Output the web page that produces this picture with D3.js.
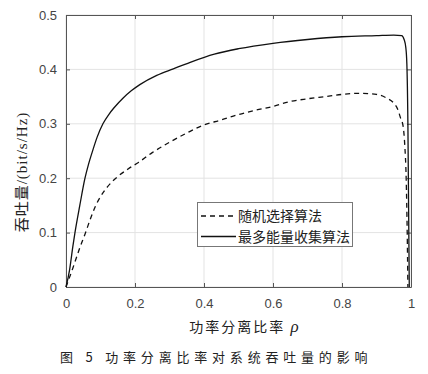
<!DOCTYPE html>
<html>
<head>
<meta charset="utf-8">
<script src="https://cdn.jsdelivr.net/npm/d3@7.9.0/dist/d3.min.js"></script>
<style>
  body { margin: 0; background: #fff; }
  svg { display: block; }
  .tick text { font-family: "Liberation Sans", sans-serif; font-size: 13px; fill: #444; }
</style>
</head>
<body>
<svg width="428" height="374"></svg>
<script>
// throughput vs power splitting ratio
const xTicks = [0, 0.2, 0.4, 0.6, 0.8, 1];
const yTicks = [0, 0.1, 0.2, 0.3, 0.4, 0.5];
const seriesNames = ['随机选择算法', '最多能量收集算法'];

// random selection (dashed)
const rhoRandom = [0, 0.02, 0.04, 0.055, 0.07, 0.085, 0.1, 0.12, 0.15, 0.18, 0.21, 0.25, 0.3, 0.35, 0.4,
  0.45, 0.5, 0.55, 0.6, 0.65, 0.7, 0.75, 0.8, 0.85, 0.9, 0.93, 0.95, 0.962, 0.97, 0.977, 0.982, 0.986, 0.989, 0.991];
const tpRandom = [0, 0.035, 0.072, 0.097, 0.124, 0.148, 0.166, 0.184, 0.203, 0.217, 0.229, 0.247, 0.266, 0.283, 0.298,
  0.307, 0.317, 0.325, 0.332, 0.341, 0.346, 0.35, 0.354, 0.356, 0.354, 0.347, 0.338, 0.326, 0.31, 0.296, 0.26, 0.2, 0.1, 0];

// max energy harvesting (solid)
const rhoMax = [0, 0.01, 0.02, 0.026, 0.04, 0.055, 0.065, 0.078, 0.09, 0.107, 0.125, 0.14, 0.165, 0.19, 0.214,
  0.263, 0.311, 0.36, 0.43, 0.5, 0.6, 0.7, 0.8, 0.9, 0.95, 0.973, 0.98, 0.985, 0.988, 0.991, 0.993, 0.995];
const tpMax = [0, 0.03, 0.075, 0.1, 0.15, 0.2, 0.225, 0.252, 0.275, 0.3, 0.318, 0.33, 0.347, 0.361, 0.372,
  0.389, 0.401, 0.413, 0.428, 0.438, 0.448, 0.455, 0.46, 0.462, 0.463, 0.462, 0.455, 0.44, 0.41, 0.3, 0.15, 0];

const svg = d3.select('svg');
const plotL = 66, plotR = 411, plotT = 15, plotB = 287;

const x = d3.scaleLinear().domain([0, 1]).range([plotL, plotR]);
const y = d3.scaleLinear().domain([0, 0.5]).range([plotB, plotT]);

// grid
const grid = svg.append('g');
grid.selectAll('.gx').data(xTicks).join('line')
  .attr('x1', d => x(d)).attr('x2', d => x(d)).attr('y1', plotT).attr('y2', plotB)
  .attr('stroke', '#e3e3e3').attr('stroke-width', 1);
grid.selectAll('.gy').data(yTicks).join('line')
  .attr('x1', plotL).attr('x2', plotR).attr('y1', d => y(d)).attr('y2', d => y(d))
  .attr('stroke', '#e3e3e3').attr('stroke-width', 1);

// axes (ticks inside, MATLAB style)
svg.append('g').attr('transform', `translate(0,${plotB})`)
  .call(d3.axisBottom(x).tickValues(xTicks).tickSizeInner(-4).tickSizeOuter(0).tickPadding(12)
    .tickFormat(d3.format('~g')));
svg.append('g').attr('transform', `translate(${plotL},0)`)
  .call(d3.axisLeft(y).tickValues(yTicks).tickSizeInner(-4).tickSizeOuter(0).tickPadding(9)
    .tickFormat(d3.format('~g')));
svg.append('g').attr('transform', `translate(0,${plotT})`)
  .call(d3.axisTop(x).tickValues(xTicks).tickSizeInner(-4).tickSizeOuter(0).tickFormat(''));
svg.append('g').attr('transform', `translate(${plotR},0)`)
  .call(d3.axisRight(y).tickValues(yTicks).tickSizeInner(-4).tickSizeOuter(0).tickFormat(''));
svg.selectAll('.domain').attr('stroke', '#555');
svg.selectAll('.tick line').attr('stroke', '#555');

// curves
const line = d3.line().x(d => x(d[0])).y(d => y(d[1])).curve(d3.curveMonotoneX);
const plot = svg.append('g');
plot.append('path')
  .datum(d3.zip(rhoRandom, tpRandom))
  .attr('d', line).attr('fill', 'none').attr('stroke', '#111')
  .attr('stroke-width', 1.3).attr('stroke-dasharray', '5,4');
plot.append('path')
  .datum(d3.zip(rhoMax, tpMax))
  .attr('d', line).attr('fill', 'none').attr('stroke', '#111').attr('stroke-width', 1.3);

// legend
const lg = svg.append('g');
lg.append('rect').attr('x', 197.5).attr('y', 202.5).attr('width', 155).attr('height', 44)
  .attr('fill', '#fff').attr('stroke', '#777');
seriesNames.forEach((name, i) => {
  const ly = 216 + i * 20.5;
  lg.append('line').attr('x1', 201).attr('x2', 236).attr('y1', ly).attr('y2', ly)
    .attr('stroke', '#111').attr('stroke-width', 1.3)
    .attr('stroke-dasharray', i === 0 ? '5,4' : null);
  lg.append('text').attr('x', 238).attr('y', ly + 5)
    .attr('font-family', '"Noto Sans CJK SC", sans-serif').attr('font-size', 14)
    .attr('fill', '#222').text(name);
});

// axis labels
svg.append('text')
  .attr('transform', 'translate(27,172) rotate(-90)')
  .attr('text-anchor', 'middle')
  .attr('font-family', '"Liberation Serif", "Noto Sans CJK SC", serif').attr('font-size', 15)
  .attr('letter-spacing', 1).attr('fill', '#222')
  .text('吞吐量/(bit/s/Hz)');

const xl = svg.append('text').attr('x', 245).attr('y', 332).attr('text-anchor', 'middle')
  .attr('font-family', '"Noto Sans CJK SC", sans-serif').attr('font-size', 14)
  .attr('letter-spacing', 2).attr('fill', '#222');
xl.append('tspan').text('功率分离比率 ');
xl.append('tspan').attr('font-family', '"Liberation Serif", serif').attr('font-style', 'italic')
  .attr('font-size', 17).text('ρ');

svg.append('text').attr('x', 60).attr('y', 362)
  .attr('font-family', '"Noto Sans CJK SC", sans-serif').attr('font-size', 13)
  .attr('letter-spacing', 4.8).attr('fill', '#222')
  .text('图 5  功率分离比率对系统吞吐量的影响');
</script>
</body>
</html>
